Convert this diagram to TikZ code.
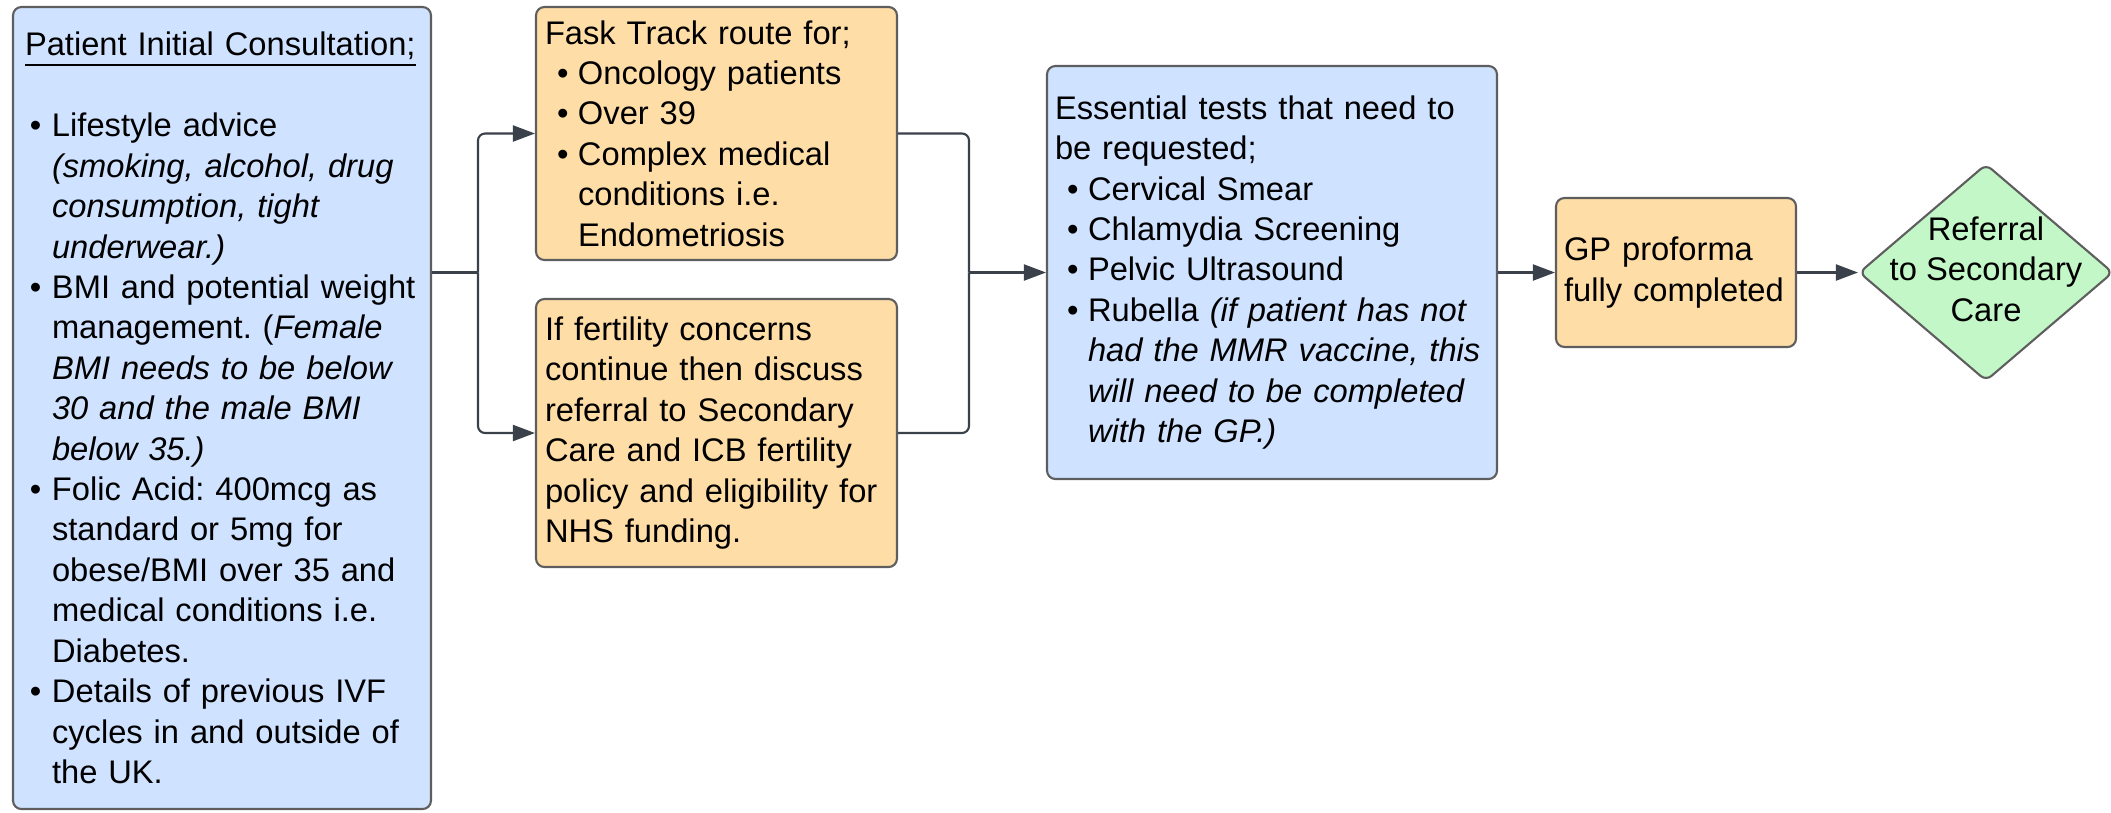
\documentclass[tikz,border=0pt]{standalone}
\usepackage{fontspec}
\setmainfont{Liberation Sans}
\usetikzlibrary{arrows.meta,shapes.geometric}

\definecolor{boxblue}{RGB}{207,226,255}
\definecolor{boxorange}{RGB}{255,221,166}
\definecolor{boxgreen}{RGB}{195,247,200}
\definecolor{edgegray}{RGB}{94,94,94}
\definecolor{linkgray}{RGB}{58,65,74}

\frenchspacing
\setlength\parindent{0pt}
\newlength\bulind
\newlength\bulpad
\setlength\bulind{3.3mm}
\setlength\bulpad{1.2mm}
\newcommand\bul{\makebox[\bulind][l]{\hspace{\bulpad}\textbullet}}
\newcommand\ind{\hspace*{\bulind}}
\newcommand\cardfont{\fontsize{9.3}{11.5}\selectfont}

\tikzset{
  card/.style={draw=edgegray,line width=0.6pt,rounded corners=2.4pt,inner ysep=0pt,align=left,font=\cardfont},
  decision/.style={shape=diamond,draw=edgegray,fill=boxgreen,line width=0.6pt,rounded corners=2pt,
    inner sep=0pt,aspect=1.17,minimum width=25.4mm,minimum height=21.7mm},
  link/.style={draw=linkgray,line width=0.6pt,rounded corners=2pt},
  arr/.style={link,-{Triangle[length=2.2mm,width=1.6mm]}},
}

\begin{document}
\begin{tikzpicture}[x=0.1mm,y=-0.1mm]
\useasboundingbox (0,0) rectangle (2111,812);

\node[card,fill=boxblue,inner xsep=1.2mm,text width=39.4mm,minimum height=80.2mm] (consult) at (222,408) {%
\setlength\bulind{2.7mm}\setlength\bulpad{0.5mm}%
\underline{Patient Initial Consultation;}\\[11.5pt]
\bul Lifestyle advice\\
\ind\textit{(smoking, alcohol, drug}\\
\ind\textit{consumption, tight}\\
\ind\textit{underwear.)}\\
\bul BMI and potential weight\\
\ind management. (\textit{Female}\\
\ind\textit{BMI needs to be below}\\
\ind\textit{30 and the male BMI}\\
\ind\textit{below 35.)}\\
\bul Folic Acid: 400mcg as\\
\ind standard or 5mg for\\
\ind obese/BMI over 35 and\\
\ind medical conditions i.e.\\
\ind Diabetes.\\
\bul Details of previous IVF\\
\ind cycles in and outside of\\
\ind the UK.};

\node[card,fill=boxorange,inner xsep=0.9mm,text width=34.3mm,minimum height=25.3mm] (fast) at (716.5,133.5) {%
Fask Track route for;\\
\bul Oncology patients\\
\bul Over 39\\
\bul Complex medical\\
\ind conditions i.e.\\
\ind Endometriosis};

\node[card,fill=boxorange,inner xsep=0.9mm,text width=34.3mm,minimum height=26.8mm] (fert) at (716.5,433) {%
If fertility concerns\\
continue then discuss\\
referral to Secondary\\
Care and ICB fertility\\
policy and eligibility for\\
NHS funding.};

\node[card,fill=boxblue,inner xsep=0.8mm,text width=43.4mm,minimum height=41.3mm] (tests) at (1272,272.5) {%
Essential tests that need to\\
be requested;\\
\bul Cervical Smear\\
\bul Chlamydia Screening\\
\bul Pelvic Ultrasound\\
\bul Rubella \textit{(if patient has not}\\
\ind\textit{had the MMR vaccine, this}\\
\ind\textit{will need to be completed}\\
\ind\textit{with the GP.)}};

\node[card,fill=boxorange,inner xsep=0.8mm,text width=22.4mm,minimum height=14.9mm] (gp) at (1676,272.5) {%
GP proforma\\
fully completed};

\node[decision,label={[font=\cardfont,align=center,yshift=0.35mm]center:{Referral\\to Secondary\\Care}}] (refer) at (1986,272.5) {};

\coordinate (split) at (478,272.5);
\coordinate (merge) at (969,272.5);

\draw[link] (consult.east |- split) -- (split);
\draw[arr] (split) |- (fast.west);
\draw[arr] (split) |- (fert.west);
\draw[link] (fast.east) -| (merge);
\draw[link] (fert.east) -| (merge);
\draw[arr] (merge) -- (tests.west);
\draw[arr] (tests.east) -- (gp.west);
\draw[arr] (gp.east) -- (refer.west);
\end{tikzpicture}
\end{document}
